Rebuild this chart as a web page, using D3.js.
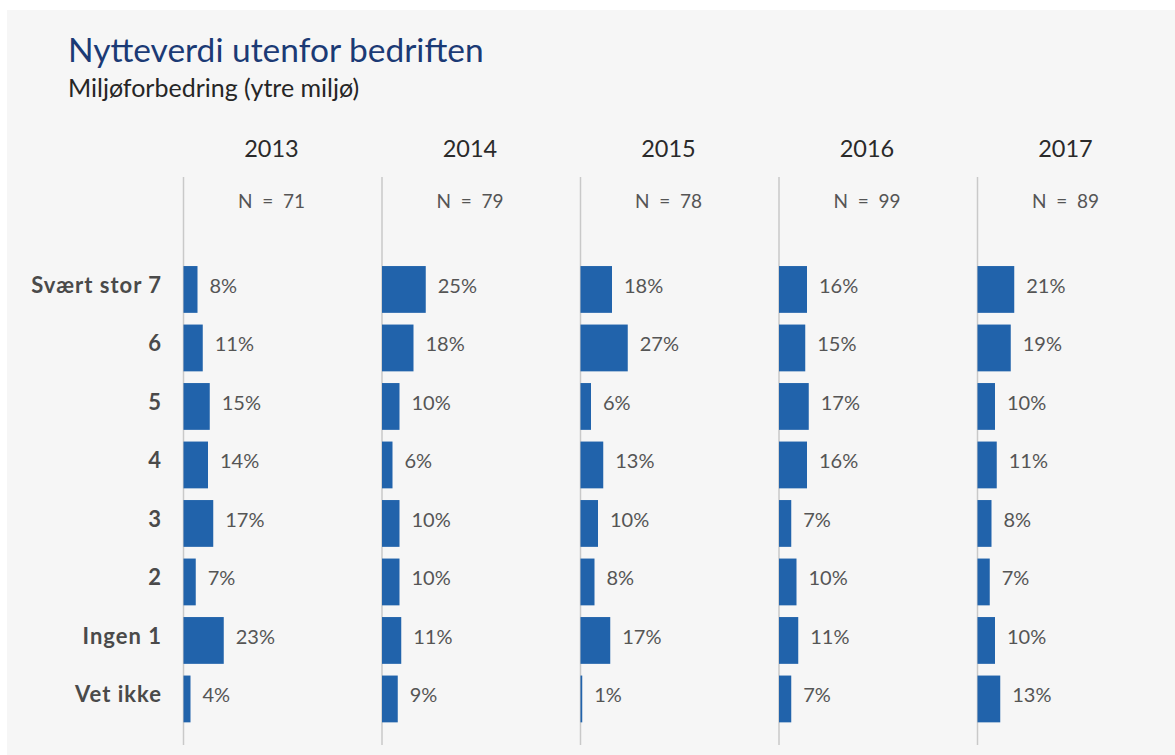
<!DOCTYPE html>
<html>
<head>
<meta charset="utf-8">
<script src="https://cdn.jsdelivr.net/npm/d3@7"></script>
<style>
  html, body { margin: 0; padding: 0; background: #ffffff; }
  svg { display: block; }
</style>
</head>
<body>
<svg id="chart" width="1175" height="755"></svg>
<script>
// Response categories, top to bottom
const categories = ["Svært stor 7", "6", "5", "4", "3", "2", "Ingen 1", "Vet ikke"];
// Survey years and respondent counts
const years = ["2013", "2014", "2015", "2016", "2017"];
const respondents = [71, 79, 78, 99, 89];
// Share of respondents (%) per category, one array per year
const values2013 = [8, 11, 15, 14, 17, 7, 23, 4];
const values2014 = [25, 18, 10, 6, 10, 10, 11, 9];
const values2015 = [18, 27, 6, 13, 10, 8, 17, 1];
const values2016 = [16, 15, 17, 16, 7, 10, 11, 7];
const values2017 = [21, 19, 10, 11, 8, 7, 10, 13];
const seriesByYear = [values2013, values2014, values2015, values2016, values2017];

const titleText = "Nytteverdi utenfor bedriften";
const subtitleText = "Miljøforbedring (ytre miljø)";

const svg = d3.select("#chart");
const font = "Lato, 'Open Sans', sans-serif";

// Light grey card behind the chart
svg.append("rect")
  .attr("x", 7).attr("y", 10)
  .attr("width", 1168).attr("height", 745)
  .attr("fill", "#f6f6f6");

svg.append("text")
  .attr("x", 68).attr("y", 62)
  .attr("font-family", font)
  .attr("font-size", 33.5)
  .attr("fill", "#1b3a75")
  .text(titleText);

svg.append("text")
  .attr("x", 68).attr("y", 97)
  .attr("font-family", font)
  .attr("font-size", 25)
  .attr("fill", "#262626")
  .text(subtitleText);

// One panel per year
const panelX = d3.scaleBand()
  .domain(years)
  .range([183.5, 183.5 + 198.5 * years.length])
  .paddingInner(0).paddingOuter(0);

// Rows shared by all panels
const rowY = d3.scaleBand()
  .domain(categories)
  .range([260.2, 728.2])
  .paddingInner(0.2)
  .paddingOuter(0.1);

// Percentage -> bar length, same scale in every panel
const barLen = d3.scaleLinear().domain([0, 100]).range([0, 175]);

const labelY = d => rowY(d) + rowY.bandwidth() / 2 + 3.5;

// Category labels on the left
svg.append("g")
  .selectAll("text")
  .data(categories)
  .join("text")
  .attr("x", 162)
  .attr("y", d => labelY(d))
  .attr("text-anchor", "end")
  .attr("font-family", font)
  .attr("font-weight", "bold")
  .attr("font-size", 22)
  .attr("letter-spacing", 1)
  .attr("fill", "#4a4a4a")
  .text(d => d);

years.forEach((year, i) => {
  const x0 = panelX(year);
  const g = svg.append("g").attr("transform", `translate(${x0},0)`);

  // baseline
  g.append("line")
    .attr("x1", 0).attr("x2", 0)
    .attr("y1", 177).attr("y2", 745)
    .attr("stroke", "#c9c9c9")
    .attr("stroke-width", 1.5);

  g.append("text")
    .attr("x", 88).attr("y", 157)
    .attr("text-anchor", "middle")
    .attr("font-family", font)
    .attr("font-size", 23.5)
    .attr("fill", "#2a2a2a")
    .text(year);

  g.append("text")
    .attr("x", 88).attr("y", 208)
    .attr("text-anchor", "middle")
    .attr("font-family", font)
    .attr("font-size", 19)
    .attr("fill", "#555555")
    .attr("xml:space", "preserve")
    .style("white-space", "pre")
    .text(`N  =  ${respondents[i]}`);

  const rows = categories.map((c, j) => ({ cat: c, v: seriesByYear[i][j] }));

  g.selectAll("rect.bar")
    .data(rows)
    .join("rect")
    .attr("class", "bar")
    .attr("x", 0)
    .attr("y", d => rowY(d.cat))
    .attr("width", d => barLen(d.v))
    .attr("height", rowY.bandwidth())
    .attr("fill", "#2163ab");

  g.selectAll("text.val")
    .data(rows)
    .join("text")
    .attr("class", "val")
    .attr("x", d => barLen(d.v) + 12)
    .attr("y", d => labelY(d.cat))
    .attr("font-family", font)
    .attr("font-size", 20)
    .attr("fill", "#555555")
    .text(d => d.v + "%");
});
</script>
</body>
</html>
